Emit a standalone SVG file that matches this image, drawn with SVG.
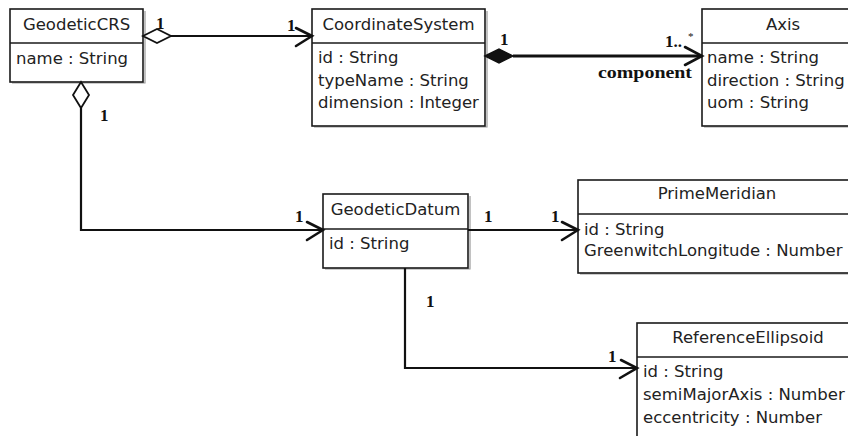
<svg xmlns="http://www.w3.org/2000/svg" width="848" height="436" viewBox="0 0 848 436">
<defs>
<style>
.box{fill:#fff;stroke:#1a1a1a;stroke-width:1.6}
.shadow{fill:none;stroke:#9a9a9a;stroke-width:1.2}
.div{stroke:#1a1a1a;stroke-width:1.4}
.t{font-family:"DejaVu Sans",sans-serif;font-size:16.5px;fill:#222}
.c{text-anchor:middle}
.ln{fill:none;stroke:#111;stroke-width:2.2}
.arr{fill:none;stroke:#111;stroke-width:2.6;stroke-linecap:round}
.lbl{font-family:"Liberation Serif",serif;font-weight:bold;font-size:17px;fill:#111}
</style>
</defs>
<rect width="848" height="436" fill="#fff"/>

<g id="GeodeticCRS">
<path class="shadow" d="M12 83 H145 V11"/>
<rect class="box" x="10" y="9" width="133" height="73"/>
<line class="div" x1="10" y1="43" x2="143" y2="43"/>
<text class="t c" x="76.5" y="30">GeodeticCRS</text>
<text class="t" x="16" y="64">name : String</text>
</g>

<g id="CoordinateSystem">
<path class="shadow" d="M314 127 H487 V11"/>
<rect class="box" x="312" y="9" width="173" height="117"/>
<line class="div" x1="312" y1="43" x2="485" y2="43"/>
<text class="t c" x="398.5" y="30">CoordinateSystem</text>
<text class="t" x="318" y="63">id : String</text>
<text class="t" x="318" y="85.5">typeName : String</text>
<text class="t" x="318" y="108">dimension : Integer</text>
</g>

<g id="Axis">
<path class="shadow" d="M704 127 H866"/>
<rect class="box" x="702" y="9" width="162" height="117"/>
<line class="div" x1="702" y1="43" x2="864" y2="43"/>
<text class="t c" x="783" y="30">Axis</text>
<text class="t" x="707" y="63">name : String</text>
<text class="t" x="707" y="86">direction : String</text>
<text class="t" x="707" y="108">uom : String</text>
</g>

<g id="GeodeticDatum">
<path class="shadow" d="M325 269 H470 V196"/>
<rect class="box" x="323" y="194" width="145" height="74"/>
<line class="div" x1="323" y1="229" x2="468" y2="229"/>
<text class="t c" x="395.5" y="215">GeodeticDatum</text>
<text class="t" x="329" y="249">id : String</text>
</g>

<g id="PrimeMeridian">
<path class="shadow" d="M580 274 H858"/>
<rect class="box" x="578" y="180" width="278" height="93"/>
<line class="div" x1="578" y1="214" x2="856" y2="214"/>
<text class="t c" x="717" y="199">PrimeMeridian</text>
<text class="t" x="584" y="235">id : String</text>
<text class="t" x="584" y="256">GreenwitchLongitude : Number</text>
</g>

<g id="ReferenceEllipsoid">
<rect class="box" x="637" y="323" width="222" height="130"/>
<line class="div" x1="637" y1="357" x2="859" y2="357"/>
<text class="t c" x="748" y="343">ReferenceEllipsoid</text>
<text class="t" x="643" y="377">id : String</text>
<text class="t" x="643" y="400">semiMajorAxis : Number</text>
<text class="t" x="643" y="423">eccentricity : Number</text>
</g>

<g id="connectors">
<!-- GeodeticCRS -> CoordinateSystem -->
<path fill="#fff" stroke="#111" stroke-width="1.8" d="M143 36 L157 29 L171 36 L157 43 Z"/>
<line class="ln" x1="171" y1="36" x2="312" y2="36"/>
<path class="arr" d="M296 28 L312 36 L296 46"/>
<text class="lbl" x="156" y="29">1</text>
<text class="lbl" x="287" y="31">1</text>

<!-- CoordinateSystem -> Axis (composition) -->
<path fill="#111" stroke="#111" stroke-width="1.5" d="M485 56 L499 49 L513 56 L499 63 Z"/>
<line class="ln" x1="513" y1="56" x2="702" y2="56" style="stroke-width:2.8"/>
<path class="arr" d="M685 47 L702 56 L685 65"/>
<text class="lbl" x="500" y="45">1</text>
<text class="lbl" x="665" y="47">1..</text>
<text class="lbl" x="688" y="40" style="font-size:11px;font-weight:normal">*</text>
<text class="lbl" x="598" y="78" textLength="94" lengthAdjust="spacingAndGlyphs" style="font-size:17px">component</text>

<!-- GeodeticCRS -> GeodeticDatum -->
<path fill="#fff" stroke="#111" stroke-width="1.8" d="M81 82 L89 95 L81 108 L73 95 Z"/>
<path class="ln" d="M81 108 V230 H323"/>
<path class="arr" d="M307 222 L323 230 L307 240"/>
<text class="lbl" x="100" y="121">1</text>
<text class="lbl" x="295" y="222">1</text>

<!-- GeodeticDatum -> PrimeMeridian -->
<line class="ln" x1="468" y1="230" x2="578" y2="230"/>
<path class="arr" d="M562 222 L578 230 L562 240"/>
<text class="lbl" x="484" y="222">1</text>
<text class="lbl" x="551" y="222">1</text>

<!-- GeodeticDatum -> ReferenceEllipsoid -->
<path class="ln" d="M405 268 V368 H637"/>
<path class="arr" d="M621 360 L637 368 L620 378"/>
<text class="lbl" x="426" y="307">1</text>
<text class="lbl" x="608" y="362">1</text>
</g>
</svg>
